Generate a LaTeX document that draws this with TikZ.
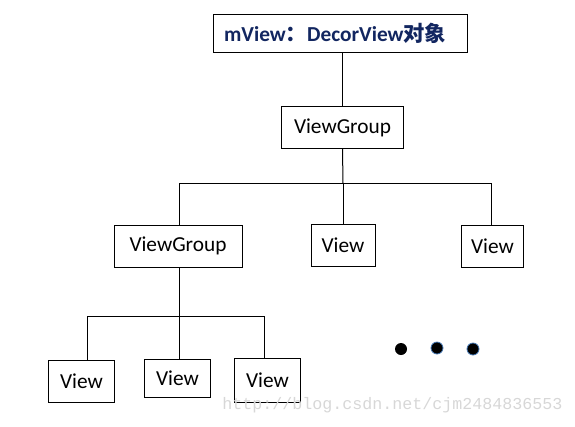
\documentclass[tikz,border=0pt]{standalone}
\usepackage{fontspec}
\setmainfont{Carlito}
\newfontfamily\cjkfont{Noto Sans CJK SC}
\newfontfamily\markfont{Liberation Mono}
\usetikzlibrary{positioning}
\definecolor{titleblue}{RGB}{18,38,96}
\definecolor{dotblue}{RGB}{70,120,180}
\definecolor{markgray}{RGB}{215,215,215}

\begin{document}
\begin{tikzpicture}[
    x=0.75pt, y=-0.75pt,
    box/.style={draw, line width=0.75pt, inner sep=0pt, align=center,
                font=\fontsize{16}{19}\selectfont},
    wire/.style={line width=0.75pt},
    dot/.style={circle, fill=black, inner sep=0pt, minimum size=9pt},
  ]
    \useasboundingbox (0,0) rectangle (575,426);

    \node[box, minimum width=191pt, minimum height=28.5pt, text=titleblue,
          font=\fontsize{16}{19}\selectfont\bfseries] (root) at (340.5,33)
          {mView{\cjkfont ：}DecorView{\cjkfont 对象}\hspace{8pt}};
    \node[box, minimum width=92pt, minimum height=31pt] (vg1) at (342.5,127.5) {ViewGroup};
    \node[box, minimum width=96pt, minimum height=31.5pt] (vg2) at (178,246) {ViewGroup};
    \node[box, minimum width=48pt, minimum height=31pt] (v1) at (343,245.5) {View};
    \node[box, minimum width=46pt, minimum height=31pt] (v2) at (492.5,246.5) {View};
    \node[box, minimum width=49pt, minimum height=31pt] (v3) at (81.5,381.5) {View};
    \node[box, minimum width=50pt, minimum height=29pt] (v4) at (177.5,378.5) {View};
    \node[box, minimum width=50pt, minimum height=33pt] (v5) at (267.5,380) {View};

    \coordinate (busA) at (343,183);
    \coordinate (busAL) at (179,183);
    \coordinate (busAR) at (491,183);
    \coordinate (busB) at (179,316);
    \coordinate (busBL) at (87,316);
    \coordinate (busBR) at (264,316);

    \draw[wire] (root.south -| vg1.north) -- (vg1.north);
    \draw[wire] (vg1.south) -- (busA);
    \draw[wire] (busAL) -- (busAR);
    \draw[wire] (busAL) -- (busAL |- vg2.north);
    \draw[wire] (busA) -- (busA |- v1.north);
    \draw[wire] (busAR) -- (busAR |- v2.north);

    \draw[wire] (vg2.south -| busB) -- (busB);
    \draw[wire] (busBL) -- (busBR);
    \draw[wire] (busBL) -- (busBL |- v3.north);
    \draw[wire] (busB) -- (busB |- v4.north);
    \draw[wire] (busBR) -- (busBR |- v5.north);

    % more children
    \node[dot] (d1) at (401,349) {};
    \node[dot, draw=dotblue, line width=0.6pt] (d2) at (437,348) {};
    \node[dot, draw=dotblue, line width=0.6pt] (d3) at (473,349) {};

    \node[text=markgray, font=\markfont\fontsize{12.5}{15}\selectfont, anchor=west,
          inner sep=0pt] (mark) at (222,405) {http://blog.csdn.net/cjm2484836553};
\end{tikzpicture}
\end{document}
